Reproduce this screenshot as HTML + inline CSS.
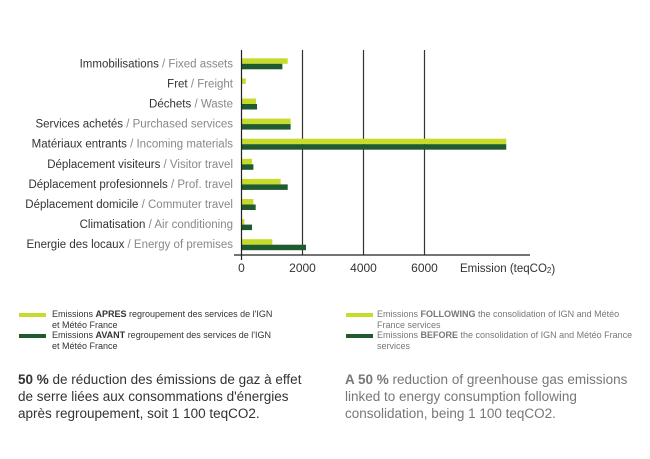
<!DOCTYPE html>
<html><head><meta charset="utf-8"><style>
body{margin:0;background:#fff;width:650px;height:459px;overflow:hidden;font-family:"Liberation Sans",sans-serif;}
.leg{position:absolute;font-size:9px;line-height:11px;color:#333;}
.sw{position:absolute;width:27px;height:4px;}
.big{position:absolute;font-size:13.5px;line-height:17px;color:#333;}
</style></head><body>
<svg id="chart" width="650" height="290" style="position:absolute;left:0;top:0" font-family="Liberation Sans, sans-serif"></svg>

<div class="sw" style="left:19px;top:313px;background:#c8da2b"></div>
<div class="leg" style="left:52px;top:309px">Emissions <b>APRES</b> regroupement des services de l'IGN<br>et Météo France</div>
<div class="sw" style="left:19px;top:334px;background:#1f5b2e"></div>
<div class="leg" style="left:52px;top:330px">Emissions <b>AVANT</b> regroupement des services de l'IGN<br>et Météo France</div>
<div class="sw" style="left:346px;top:313px;background:#c8da2b"></div>
<div class="leg" style="left:377px;top:309px;color:#777">Emissions <b>FOLLOWING</b> the consolidation of IGN and Météo<br>France services</div>
<div class="sw" style="left:346px;top:334px;background:#1f5b2e"></div>
<div class="leg" style="left:377px;top:330px;color:#777">Emissions <b>BEFORE</b> the consolidation of IGN and Météo France<br>services</div>

<div class="big" style="left:18px;top:371px"><b>50 %</b> de réduction des émissions de gaz à effet<br>de serre liées aux consommations d'énergies<br>après regroupement, soit 1 100 teqCO2.</div>
<div class="big" style="left:345px;top:371px;color:#777"><b>A 50 %</b> reduction of greenhouse gas emissions<br>linked to energy consumption following<br>consolidation, being 1 100 teqCO2.</div>

<script>
const catFr=["Immobilisations","Fret","Déchets","Services achetés","Matériaux entrants","Déplacement visiteurs","Déplacement profesionnels","Déplacement domicile","Climatisation","Energie des locaux"];
const catEn=["Fixed assets","Freight","Waste","Purchased services","Incoming materials","Visitor travel","Prof. travel","Commuter travel","Air conditioning","Energy of premises"];
const after=[1515,140,475,1610,8680,345,1285,390,95,1010];
const before=[1340,0,510,1610,8680,390,1515,465,345,2115];
const ticks=[0,2000,4000,6000];

const svg=document.getElementById('chart');
const NS='http://www.w3.org/2000/svg';
const x0=241.5, pxPer=61/2000;
const xs=v=>x0+v*pxPer;
const rowTop=i=>58.3+i*20.1;
function mk(t,a){const e=document.createElementNS(NS,t);for(const k in a)e.setAttribute(k,a[k]);svg.appendChild(e);return e;}

ticks.forEach((t,i)=>{
  if(i>0){const l=mk('line',{x1:xs(t),x2:xs(t),y1:50,y2:255,stroke:'#333','stroke-width':1.2});
  
  }
  const tx=mk('text',{x:xs(t),y:272,'font-size':12,fill:'#333','text-anchor':'middle'});
  tx.textContent=t;
  
  
});
const axT=mk('text',{x:460,y:272,'font-size':11.5,fill:'#333'});
axT.innerHTML='Emission (teqCO<tspan font-size="8" dy="1">2</tspan>)';



catFr.forEach((c,i)=>{
  const y=rowTop(i);
  const a=mk('rect',{x:x0,y:y,width:after[i]*pxPer,height:5.5,fill:'#c8da2b'});
  
  
  const b=mk('rect',{x:x0,y:y+5.5,width:before[i]*pxPer,height:5.5,fill:'#1f5b2e'});
  
  
  const t=mk('text',{x:233,y:y+9,'font-size':11.5,'text-anchor':'end',fill:'#333'});
  t.innerHTML=c+' <tspan fill="#888">/ '+catEn[i]+'</tspan>';
  
  
});
const ya=mk('line',{x1:x0,x2:x0,y1:50,y2:260,stroke:'#222','stroke-width':1.2});


const xa=mk('line',{x1:234,x2:530,y1:255,y2:255,stroke:'#222','stroke-width':1.2});


</script>
</body></html>
